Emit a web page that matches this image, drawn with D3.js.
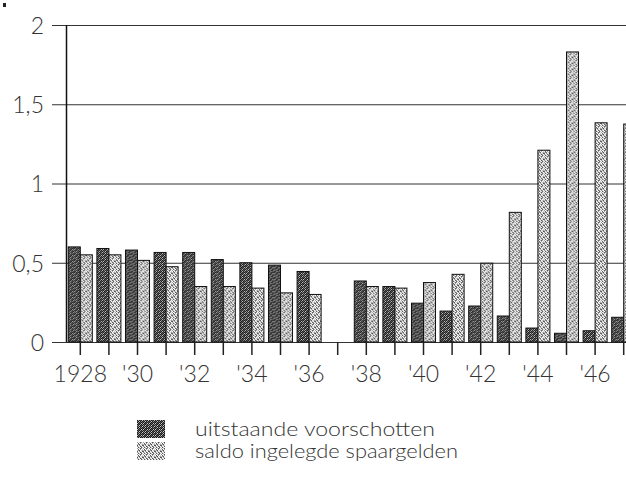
<!DOCTYPE html>
<html>
<head>
<meta charset="utf-8">
<script src="https://cdn.jsdelivr.net/npm/d3@7"></script>
<style>
  body { margin: 0; background: #fff; }
  svg { display: block; }
  text { font-family: Lato, "Liberation Sans", Arial, sans-serif; font-weight: 300; fill: #333; }
</style>
</head>
<body>
<div class="svg-container"></div>
<script>
var years = d3.range(1928, 1948);
var tickLabels = ["1928", "'30", "'32", "'34", "'36", "'38", "'40", "'42", "'44", "'46"];
var voorschotten = [0.60, 0.59, 0.58, 0.565, 0.565, 0.52, 0.50, 0.485, 0.445, 0,
                    0.385, 0.35, 0.245, 0.195, 0.227, 0.164, 0.088, 0.055, 0.071, 0.156];
var spaargelden = [0.55, 0.55, 0.515, 0.475, 0.35, 0.35, 0.34, 0.31, 0.30, 0,
                   0.35, 0.34, 0.375, 0.427, 0.497, 0.818, 1.21, 1.83, 1.383, 1.375];
var yTicks = [0, 0.5, 1, 1.5, 2];
var seriesNames = ["uitstaande voorschotten", "saldo ingelegde spaargelden"];

var w = 626, h = 483;

var svg = d3.select(".svg-container").append("svg")
    .attr("width", w).attr("height", h);

// scanned dither look for the bars
var defs = svg.append("defs");
function makePattern(id, cells) {
    var p = defs.append("pattern").attr("id", id)
        .attr("patternUnits", "userSpaceOnUse")
        .attr("width", cells[0].length).attr("height", cells.length);
    cells.forEach(function(row, r) {
        row.forEach(function(c, k) {
            p.append("rect").attr("x", k).attr("y", r)
                .attr("width", 1).attr("height", 1).attr("fill", c);
        });
    });
}
var D = "#1a1a1a", M = "#555", G = "#999", L = "#ccc", W = "#fff";
makePattern("darkFill", [
    [D, G, D, M, D, L],
    [M, D, L, D, G, D],
    [D, G, D, M, D, M],
    [L, D, M, D, L, D],
    [D, M, D, G, D, G],
    [G, D, L, D, M, D]]);
makePattern("lightFill", [
    [G, W, L, M, G, W],
    [W, M, W, G, W, L],
    [L, G, M, W, L, G],
    [M, W, G, L, W, M],
    [G, L, W, M, G, W],
    [W, M, L, W, M, L]]);

var x = d3.scaleBand().domain(years).range([66, 638]).paddingInner(0.16).paddingOuter(0.08);
var xSub = d3.scaleBand().domain([0, 1]).range([0, x.bandwidth()]);
var y = d3.scaleLinear().domain([0, 2]).range([342, 25]);

// y labels and tick stubs
var yAxis = svg.append("g").attr("transform", "translate(66,0)")
    .call(d3.axisLeft(y).tickValues(yTicks).tickSize(14).tickPadding(8)
        .tickFormat(function(d) { return String(d).replace(".", ","); }));
yAxis.select(".domain").remove();
yAxis.selectAll(".tick line").attr("stroke", "#333");
yAxis.selectAll(".tick text").attr("font-size", 23).attr("dy", "0.36em")
    .style("font-family", null).attr("fill", null);

// gridlines
svg.append("g").selectAll("line").data(yTicks).enter().append("line")
    .attr("x1", 66).attr("x2", w)
    .attr("y1", function(d) { return y(d) + 0.5; })
    .attr("y2", function(d) { return y(d) + 0.5; })
    .attr("stroke", "#333").attr("stroke-width", 1);

// bars
var groups = svg.append("g").selectAll("g").data(years).enter().append("g")
    .attr("transform", function(d) { return "translate(" + x(d) + ",0)"; });

groups.append("rect")
    .attr("x", xSub(0))
    .attr("y", function(d, i) { return y(voorschotten[i]); })
    .attr("width", xSub.bandwidth())
    .attr("height", function(d, i) { return y(0) - y(voorschotten[i]); })
    .attr("fill", "url(#darkFill)")
    .attr("stroke", function(d, i) { return voorschotten[i] > 0 ? "#111" : "none"; })
    .attr("stroke-width", 1);

groups.append("rect")
    .attr("x", xSub(1))
    .attr("y", function(d, i) { return y(spaargelden[i]); })
    .attr("width", xSub.bandwidth())
    .attr("height", function(d, i) { return y(0) - y(spaargelden[i]); })
    .attr("fill", "url(#lightFill)")
    .attr("stroke", function(d, i) { return spaargelden[i] > 0 ? "#111" : "none"; })
    .attr("stroke-width", 1);

// y axis line
svg.append("line").attr("x1", 66.5).attr("x2", 66.5).attr("y1", 25).attr("y2", 342)
    .attr("stroke", "#111").attr("stroke-width", 1.5);

// x axis, a label on every other year
var xAxis = svg.append("g").attr("transform", "translate(0,342)")
    .call(d3.axisBottom(x).tickSize(13).tickPadding(11)
        .tickFormat(function(d, i) { return i % 2 === 0 ? tickLabels[i / 2] : ""; }));
xAxis.select(".domain").remove();
xAxis.selectAll(".tick line").attr("stroke", "#222").attr("stroke-width", 1.5);
xAxis.selectAll(".tick text").attr("font-size", 23)
    .style("font-family", null).attr("fill", null);

// stray dot at top left of the scan
svg.append("rect").attr("x", 3).attr("y", 3).attr("width", 3).attr("height", 4).attr("fill", "#222");

// legend
var legend = svg.append("g").selectAll("g").data(seriesNames).enter().append("g")
    .attr("transform", function(d, i) { return "translate(137," + (420 + i * 22) + ")"; });
legend.append("rect").attr("width", 28).attr("height", 18)
    .attr("fill", function(d, i) { return i === 0 ? "url(#darkFill)" : "url(#lightFill)"; });
legend.append("text").attr("x", 58).attr("y", 9).attr("dy", "0.35em")
    .attr("font-size", 20)
    .attr("textLength", function(d, i) { return i === 0 ? 240 : 263; })
    .attr("lengthAdjust", "spacingAndGlyphs")
    .text(function(d) { return d; });
</script>
</body>
</html>
